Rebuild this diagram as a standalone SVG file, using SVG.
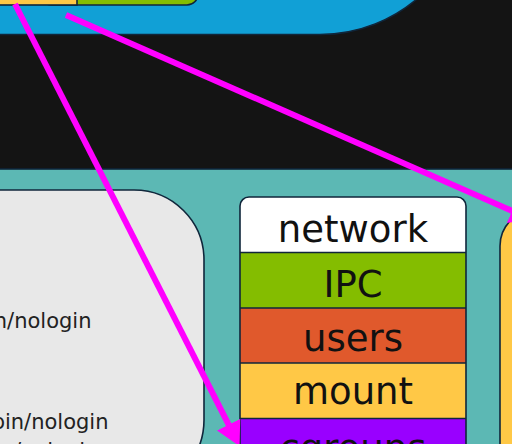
<svg xmlns="http://www.w3.org/2000/svg" width="512" height="444" viewBox="0 0 512 444">
  <style>
    .edge { stroke: #10263b; stroke-width: 1.6; }
    .ns { font-family: "DejaVu Sans", "Liberation Sans", sans-serif; font-size: 37px; fill: #111; text-anchor: middle; }
    .passwd { font-family: "DejaVu Sans", "Liberation Sans", sans-serif; font-size: 21px; fill: #222; text-anchor: end; }
    .link { fill: none; stroke: #ff00ff; stroke-width: 6; stroke-linecap: butt; }
  </style>
  <defs>
    <marker id="head" markerUnits="userSpaceOnUse" markerWidth="26" markerHeight="28" viewBox="0 -14 26 28" refX="1" refY="0" orient="auto">
      <path d="M0,-13 L24,0 L0,13 Z" fill="#ff00ff"/>
    </marker>
    <clipPath id="stackClip">
      <rect x="240" y="197" width="226" height="400" rx="9"/>
    </clipPath>
  </defs>

  <!-- dark band behind everything -->
  <rect x="0" y="0" width="512" height="444" fill="#141414"/>

  <!-- host (blue) -->
  <g id="host">
    <rect class="edge" x="-200" y="-300" width="670" height="334.5" rx="150" fill="#11a0d6"/>
  </g>

  <!-- tabs inside host -->
  <g id="tabs">
    <rect class="edge" x="40" y="-60" width="158" height="65" rx="11" fill="#84bd00"/>
    <rect class="edge" x="-20" y="-60" width="97" height="65" fill="#ffc846"/>
  </g>

  <!-- container area (teal) -->
  <g id="container">
    <rect class="edge" x="-10" y="169" width="540" height="300" fill="#5cb8b4"/>
  </g>

  <!-- passwd file card -->
  <g id="passwd">
    <rect class="edge" x="-100" y="190" width="304" height="300" rx="70" fill="#e8e8e8"/>
    <text class="passwd" x="91.5" y="327.5">n/nologin</text>
    <text class="passwd" x="108.5" y="428.5">bin/nologin</text>
    <text class="passwd" x="98.5" y="458">n/nologin</text>
  </g>

  <!-- namespace stack -->
  <g id="namespaces">
    <g clip-path="url(#stackClip)">
      <rect x="240" y="197" width="226" height="55.5" fill="#ffffff"/>
      <rect x="240" y="252.5" width="226" height="55.5" fill="#84bd00"/>
      <rect x="240" y="308" width="226" height="55" fill="#e0592c"/>
      <rect x="240" y="363" width="226" height="55.5" fill="#ffc846"/>
      <rect x="240" y="418.5" width="226" height="180" fill="#9900ff"/>
    </g>
    <line class="edge" x1="240" y1="252.5" x2="466" y2="252.5"/>
    <line class="edge" x1="240" y1="308" x2="466" y2="308"/>
    <line class="edge" x1="240" y1="363" x2="466" y2="363"/>
    <line class="edge" x1="240" y1="418.5" x2="466" y2="418.5"/>
    <rect class="edge" x="240" y="197" width="226" height="400" rx="9" fill="none"/>
    <text class="ns" x="353" y="241.5">network</text>
    <text class="ns" x="353" y="296.5">IPC</text>
    <text class="ns" x="353" y="350.5">users</text>
    <text class="ns" x="353" y="404">mount</text>
    <text class="ns" x="353" y="460.5">cgroups</text>
  </g>

  <!-- root filesystem card (right) -->
  <g id="rootfs">
    <rect class="edge" x="500" y="210" width="200" height="300" rx="36" fill="#ffc846"/>
  </g>

  <!-- connectors -->
  <g id="connectors">
    <line class="link" x1="15" y1="4" x2="229.1" y2="425.6" marker-end="url(#head)"/>
    <line class="link" x1="66" y1="15" x2="513" y2="211.3" marker-end="url(#head)"/>
  </g>
</svg>
